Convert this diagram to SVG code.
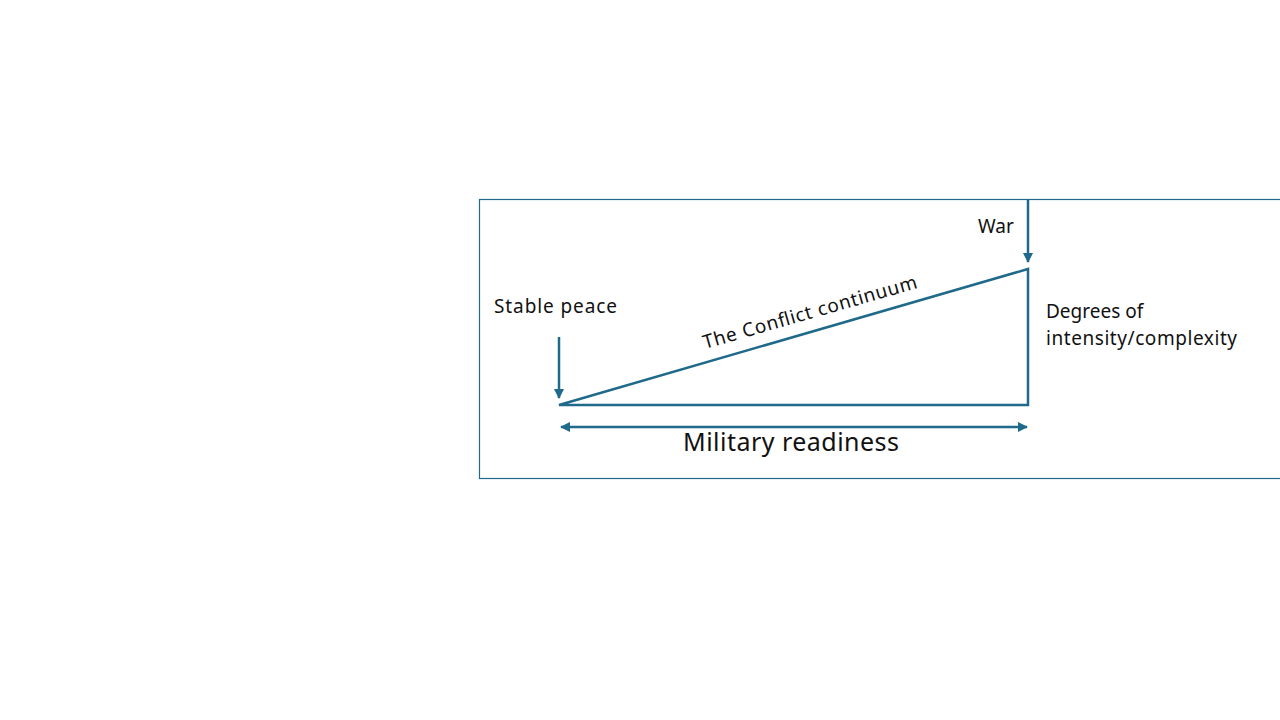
<svg xmlns="http://www.w3.org/2000/svg" width="1280" height="720" viewBox="0 0 1280 720">
<defs>
<style>
.ln{stroke:#1f6a8a;stroke-width:2.5;fill:none}
.t{font-family:"Noto Sans","Open Sans","Liberation Sans",sans-serif;fill:#111}
</style>
<marker id="ah" viewBox="0 0 10 10" refX="9" refY="5" markerWidth="4" markerHeight="4" orient="auto-start-reverse">
<path d="M0,0 L10,5 L0,10 z" fill="#1f6a8a"/>
</marker>
</defs>
<rect width="1280" height="720" fill="#fff"/>
<g id="frame"><rect x="479.5" y="199.5" width="820" height="279" fill="none" stroke="#1f6a8a" stroke-width="1.2"/></g>
<g id="triangle"><path class="ln" d="M559,405 L1028,269 L1028,405 Z" stroke-linejoin="miter"/></g>
<g id="connectors">
<line class="ln" x1="559" y1="337" x2="559" y2="398" marker-end="url(#ah)"/>
<line class="ln" x1="1028" y1="200" x2="1028" y2="262" marker-end="url(#ah)"/>
<line class="ln" x1="561" y1="427" x2="1027" y2="427" marker-start="url(#ah)" marker-end="url(#ah)"/>
</g>
<g id="stable-peace"><text class="t" x="494" y="313" font-size="19" textLength="123">Stable peace</text></g>
<g id="war"><text class="t" x="978" y="233" font-size="19">War</text></g>
<g id="degrees"><text class="t" x="1046" y="318" font-size="19">Degrees of</text><text class="t" x="1046" y="345" font-size="19" textLength="191">intensity/complexity</text></g>
<g id="conflict"><text class="t" transform="translate(705,349) rotate(-16)" font-size="19" textLength="222">The Conflict continuum</text></g>
<g id="military"><text class="t" x="683" y="451" font-size="25" textLength="216">Military readiness</text></g>
</svg>
